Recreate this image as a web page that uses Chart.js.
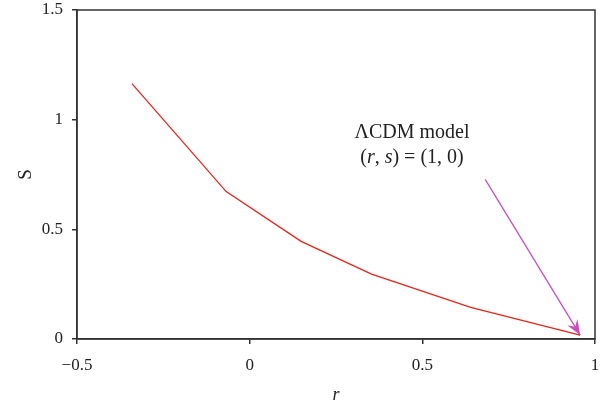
<!DOCTYPE html>
<html>
<head>
<meta charset="utf-8">
<script src="https://cdn.jsdelivr.net/npm/chart.js@4"></script>
<style>
  html, body { margin: 0; padding: 0; background: #fff; }
  #wrap { width: 616px; height: 408px; }
</style>
</head>
<body>
<div id="wrap"><canvas id="graph1" width="616" height="408"></canvas></div>
<script>
// valores
const rValues = [-0.341, -0.068, 0.149, 0.353, 0.640, 0.957];
const sValues = [1.164, 0.672, 0.445, 0.296, 0.144, 0.018];

// seta do modelo LCDM
const arrowR = [0.682, 0.957];
const arrowS = [0.728, 0.018];

const xTicks = [-0.5, 0, 0.5, 1];
const yTicks = [0, 0.5, 1, 1.5];

const fontFam = '"Liberation Serif", "DejaVu Serif", serif';

// caixa, ponta da seta e texto
const extras = {
    id: 'extras',
    afterDatasetsDraw(chart) {
        const ctx = chart.ctx;
        const a = chart.chartArea;
        const x = chart.scales.x, y = chart.scales.y;
        ctx.save();
        ctx.strokeStyle = '#333';
        ctx.lineWidth = 1.5;
        ctx.strokeRect(a.left, a.top, a.right - a.left, a.bottom - a.top);

        // ponta da seta
        const x0 = x.getPixelForValue(arrowR[0]), y0 = y.getPixelForValue(arrowS[0]);
        const x1 = x.getPixelForValue(arrowR[1]), y1 = y.getPixelForValue(arrowS[1]);
        const ang = Math.atan2(y1 - y0, x1 - x0);
        const len = 15, half = 6;
        ctx.fillStyle = '#c94fbf';
        ctx.beginPath();
        ctx.moveTo(x1, y1);
        ctx.lineTo(x1 - len * Math.cos(ang) + half * Math.sin(ang), y1 - len * Math.sin(ang) - half * Math.cos(ang));
        ctx.lineTo(x1 - len * Math.cos(ang) * 0.65, y1 - len * Math.sin(ang) * 0.65);
        ctx.lineTo(x1 - len * Math.cos(ang) - half * Math.sin(ang), y1 - len * Math.sin(ang) + half * Math.cos(ang));
        ctx.closePath();
        ctx.fill();

        // texto
        const tx = x.getPixelForValue(0.470);
        const fs = '20px ';
        ctx.fillStyle = '#222';
        ctx.textAlign = 'center';
        ctx.textBaseline = 'middle';
        ctx.font = fs + fontFam;
        ctx.fillText('\u039BCDM model', tx, y.getPixelForValue(0.94));
        // segunda linha com r e s em itálico
        const parts = [['(', false], ['r', true], [', ', false], ['s', true], [') = (1, 0)', false]];
        let total = 0;
        parts.forEach(p => {
            ctx.font = (p[1] ? 'italic ' : '') + fs + fontFam;
            total += ctx.measureText(p[0]).width;
        });
        let cx = tx - total / 2;
        const ly = y.getPixelForValue(0.825);
        ctx.textAlign = 'left';
        parts.forEach(p => {
            ctx.font = (p[1] ? 'italic ' : '') + fs + fontFam;
            ctx.fillText(p[0], cx, ly);
            cx += ctx.measureText(p[0]).width;
        });
        ctx.restore();
    }
};

const config = {
    type: 'line',
    data: {
        datasets: [
            {
                label: 's(r)',
                data: rValues.map((r, i) => ({x: r, y: sValues[i]})),
                borderColor: '#e8231c',
                borderWidth: 1.3,
                pointRadius: 0,
                tension: 0,
            },
            {
                label: 'arrow',
                data: arrowR.map((r, i) => ({x: r, y: arrowS[i]})),
                borderColor: '#c94fbf',
                borderWidth: 1.3,
                pointRadius: 0,
            }
        ]
    },
    options: {
        responsive: false,
        animation: false,
        layout: { padding: { top: 10, right: 21, left: 0, bottom: 0 } },
        scales: {
            x: {
                type: 'linear',
                min: -0.5,
                max: 1,
                afterFit(s) { s.height = 69; s.paddingLeft = 0; s.paddingRight = 0; },
                afterBuildTicks(s) { s.ticks = xTicks.map(v => ({value: v})); },
                grid: { display: true, drawOnChartArea: false, drawTicks: true, tickLength: 5, color: '#333', lineWidth: 1.5 },
                border: { display: true, color: '#333', width: 1.5 },
                ticks: {
                    color: '#222',
                    padding: 11,
                    maxRotation: 0,
                    font: { family: fontFam, size: 17 },
                    callback: v => (v < 0 ? '\u2212' + Math.abs(v) : String(v))
                },
                title: {
                    display: true,
                    text: 'r',
                    color: '#222',
                    font: { family: fontFam, size: 18, style: 'italic' },
                    padding: { top: 2, bottom: 2 }
                }
            },
            y: {
                type: 'linear',
                min: 0,
                max: 1.5,
                afterFit(s) { s.width = 77; s.paddingTop = 0; s.paddingBottom = 0; },
                afterBuildTicks(s) { s.ticks = yTicks.map(v => ({value: v})); },
                grid: { display: true, drawOnChartArea: false, drawTicks: true, tickLength: 5, color: '#333', lineWidth: 1.5 },
                border: { display: true, color: '#333', width: 1.5 },
                ticks: {
                    color: '#222',
                    padding: 9,
                    font: { family: fontFam, size: 17 },
                    callback: v => String(v)
                },
                title: {
                    display: true,
                    text: 'S',
                    color: '#222',
                    font: { family: fontFam, size: 19 },
                    padding: { top: 15, bottom: 0 }
                }
            }
        },
        plugins: {
            legend: { display: false },
            tooltip: { enabled: false }
        }
    },
    plugins: [extras]
};

const chart = new Chart(document.getElementById('graph1'), config);
</script>
</body>
</html>
